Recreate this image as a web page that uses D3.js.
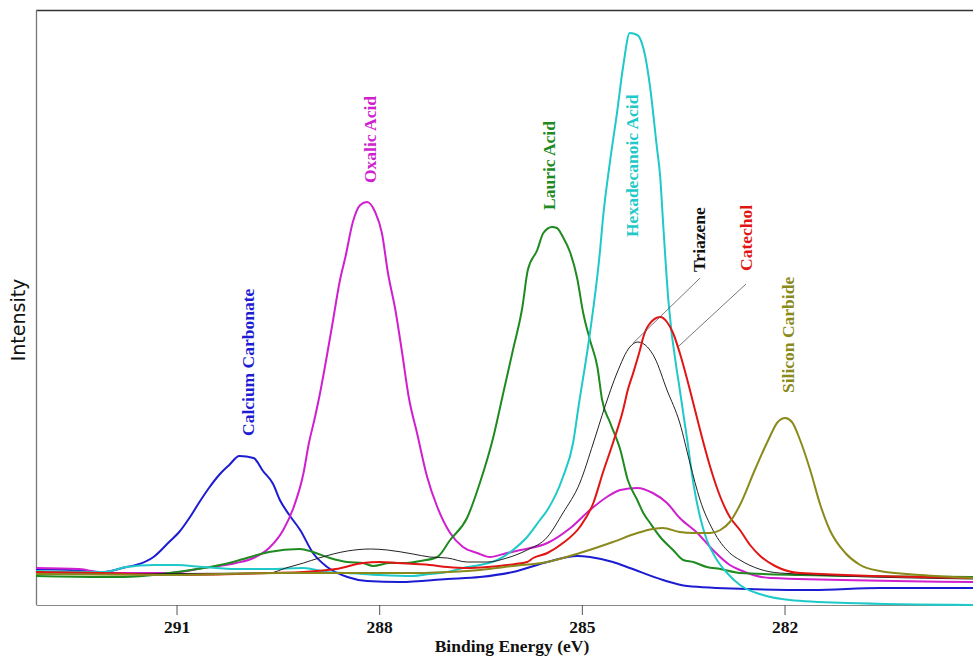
<!DOCTYPE html>
<html>
<head>
<meta charset="utf-8">
<script src="https://cdn.jsdelivr.net/npm/d3@7"></script>
<style>
  body { margin: 0; background: #fff; }
  svg { display: block; }
</style>
</head>
<body>
<svg id="chart"></svg>
<script>
// binding energy (eV) / intensity (a.u.) pairs
const calciumCarbonate = [
  [293.08,36],[292.57,35],[292.08,33],[291.74,38],[291.60,40],[291.34,48],[291.11,63],[290.96,73],
  [290.81,87],[290.66,103],[290.52,117],[290.37,130],[290.22,140],[290.07,149],[289.86,147],[289.72,134],
  [289.57,121],[289.47,105],[289.33,90],[289.17,75],[288.98,52],[288.77,38],[288.47,28],[288.18,24],
  [287.69,23],[286.99,26],[286.51,28],[286.02,33],[285.51,43],[285.07,49],[284.88,48],[284.54,43],
  [284.29,37],[283.80,25],[283.44,19],[282.55,16],[281.58,15],[280.59,17],[279.21,17]
];
const oxalicAcid = [
  [293.08,37],[292.44,36],[292.08,32],[291.11,32],[290.60,37],[290.12,42],[289.86,47],[289.63,57],
  [289.42,75],[289.27,97],[289.12,132],[289.04,162],[288.96,185],[288.89,207],[288.70,278],[288.58,325],
  [288.50,348],[288.39,383],[288.28,400],[288.18,403],[288.06,393],[287.96,372],[287.87,332],[287.76,295],
  [287.66,252],[287.56,207],[287.44,172],[287.29,128],[287.14,98],[286.95,72],[286.76,58],[286.55,52],
  [286.36,48],[286.11,52],[285.91,55],[285.51,62],[285.17,77],[284.88,95],[284.63,108],[284.43,115],
  [284.18,117],[283.95,112],[283.74,102],[283.55,87],[283.29,72],[283.06,55],[282.81,40],[282.66,35],
  [282.21,27],[279.21,23]
];
const lauricAcid = [
  [293.08,29],[292.08,28],[291.79,28],[291.11,32],[290.60,37],[290.22,42],[290.01,46],[289.63,53],
  [289.18,56],[288.98,53],[288.73,47],[288.47,43],[288.24,42],[288.09,39],[287.84,42],[287.59,42],
  [287.39,44],[287.14,48],[286.95,65],[286.70,87],[286.51,122],[286.31,168],[286.17,210],[286.02,255],
  [285.88,298],[285.80,335],[285.66,355],[285.57,372],[285.44,378],[285.37,377],[285.28,368],[285.17,352],
  [285.07,327],[284.98,292],[284.88,265],[284.77,238],[284.70,205],[284.58,182],[284.43,155],[284.32,125],
  [284.18,105],[284.09,92],[283.99,82],[283.84,68],[283.65,55],[283.50,45],[283.35,43],[283.15,38],
  [282.95,36],[282.66,32],[281.77,30],[279.21,28]
];
const hexadecanoicAcid = [
  [293.08,34],[292.08,33],[291.74,38],[291.34,40],[291.00,40],[290.60,38],[290.12,36],[289.63,36],
  [289.12,37],[288.78,33],[288.47,32],[287.99,30],[287.50,29],[287.25,31],[286.99,33],[286.76,37],
  [286.51,40],[286.25,45],[286.02,55],[285.81,68],[285.62,85],[285.51,95],[285.28,128],[285.13,162],
  [285.05,198],[284.88,272],[284.73,355],[284.69,385],[284.58,445],[284.48,492],[284.39,538],[284.29,572],
  [284.18,570],[284.06,548],[283.99,518],[283.89,458],[283.84,428],[283.80,385],[283.72,305],[283.55,215],
  [283.44,165],[283.35,122],[283.25,88],[283.15,65],[283.00,45],[282.85,32],[282.66,20],[282.32,10],
  [281.92,5],[281.07,2],[279.21,0]
];
const triazene = [
  [293.08,31],[289.63,32],[289.38,37],[289.12,42],[288.89,47],[288.47,54],[288.13,56],[287.88,55],
  [287.50,51],[287.25,48],[286.99,47],[286.70,43],[286.40,43],[286.11,47],[285.81,55],[285.51,68],
  [285.28,92],[285.03,122],[284.83,162],[284.66,198],[284.48,232],[284.29,258],[284.17,263],[284.03,258],
  [283.92,247],[283.74,215],[283.55,182],[283.40,142],[283.25,105],[283.06,75],[282.81,52],[282.66,45],
  [282.07,32],[279.21,26]
];
const catechol = [
  [293.08,33],[292.08,32],[291.11,30],[290.12,31],[289.63,32],[289.12,33],[288.64,36],[288.24,42],
  [287.99,43],[287.73,42],[287.25,40],[286.99,38],[286.70,37],[286.40,38],[286.11,40],[285.81,43],
  [285.72,47],[285.51,52],[285.28,62],[285.03,78],[284.83,102],[284.69,132],[284.54,162],[284.39,195],
  [284.32,215],[284.24,232],[284.14,255],[284.09,268],[284.01,280],[283.84,288],[283.74,283],[283.65,272],
  [283.55,252],[283.40,215],[283.25,175],[283.10,138],[282.95,108],[282.81,88],[282.66,75],[282.51,60],
  [282.36,49],[282.14,39],[281.77,32],[279.21,27]
];
const siliconCarbide = [
  [293.08,31],[291.11,30],[289.47,32],[288.47,32],[287.39,32],[286.99,33],[286.51,35],[286.02,39],
  [285.51,43],[285.03,52],[284.54,63],[284.18,72],[283.95,76],[283.80,77],[283.55,73],[283.35,72],
  [283.10,72],[282.95,75],[282.81,83],[282.66,100],[282.44,135],[282.24,165],[282.10,183],[281.99,187],
  [281.89,183],[281.77,165],[281.62,135],[281.47,100],[281.33,75],[281.10,52],[280.88,40],[280.59,34],
  [279.99,30],[279.21,27]
];
const xTicks = [291, 288, 285, 282];

const series = [
  { name: 'Calcium Carbonate', values: calciumCarbonate, color: '#1c1cd2', width: 2 },
  { name: 'Oxalic Acid', values: oxalicAcid, color: '#cf1fcf', width: 2 },
  { name: 'Lauric Acid', values: lauricAcid, color: '#1f8a1f', width: 2 },
  { name: 'Hexadecanoic Acid', values: hexadecanoicAcid, color: '#1fc9c9', width: 2 },
  { name: 'Triazene', values: triazene, color: '#222222', width: 1 },
  { name: 'Catechol', values: catechol, color: '#e21515', width: 2 },
  { name: 'Silicon Carbide', values: siliconCarbide, color: '#8a8a1c', width: 2 }
];

// label anchors (bottom end of the rotated text) in data coordinates
const labels = {
  'Calcium Carbonate': [289.86, 169],
  'Oxalic Acid': [288.04, 422],
  'Lauric Acid': [285.40, 395],
  'Hexadecanoic Acid': [284.17, 368],
  'Triazene': [283.18, 333],
  'Catechol': [282.48, 334],
  'Silicon Carbide': [281.86, 212]
};
const leaders = [
  [[283.25, 327], [284.24, 262]],
  [[282.57, 321], [283.58, 258]]
];

const W = 973, H = 657;
const margin = { top: 10, right: 0, bottom: 52, left: 36 };

const svg = d3.select('#chart').attr('width', W).attr('height', H);

const x = d3.scaleLinear().domain([293.08, 279.21]).range([margin.left, W - margin.right]);
const y = d3.scaleLinear().domain([0, 595]).range([H - margin.bottom, margin.top]);

const serif = "'Liberation Serif', 'Times New Roman', serif";

// frame
svg.append('line')
  .attr('x1', margin.left).attr('x2', W)
  .attr('y1', margin.top + 0.5).attr('y2', margin.top + 0.5)
  .attr('stroke', '#333').attr('stroke-width', 1.3);
svg.append('line')
  .attr('x1', margin.left + 0.5).attr('x2', margin.left + 0.5)
  .attr('y1', margin.top).attr('y2', H - margin.bottom)
  .attr('stroke', '#777').attr('stroke-width', 1.3);

const xAxis = svg.append('g')
  .attr('transform', `translate(0,${H - margin.bottom})`)
  .call(d3.axisBottom(x).tickValues(xTicks).tickSize(10).tickSizeOuter(0).tickPadding(6));
xAxis.select('.domain').attr('stroke', '#888').attr('stroke-width', 1.2);
xAxis.selectAll('.tick line').attr('stroke', '#555');
xAxis.selectAll('.tick text')
  .attr('fill', '#111')
  .style('font-family', serif)
  .style('font-weight', 'bold')
  .style('font-size', '17.5px');

svg.append('text')
  .attr('x', 512).attr('y', 652)
  .attr('text-anchor', 'middle')
  .style('font-family', serif)
  .style('font-weight', 'bold')
  .style('font-size', '17.5px')
  .attr('fill', '#111')
  .text('Binding Energy (eV)');

svg.append('text')
  .attr('transform', 'translate(25,320) rotate(-90)')
  .attr('text-anchor', 'middle')
  .style('font-family', "'DejaVu Sans', sans-serif")
  .style('font-size', '19px')
  .attr('fill', '#111')
  .text('Intensity');

const line = d3.line()
  .x(d => x(d[0]))
  .y(d => y(d[1]))
  .curve(d3.curveMonotoneX);

svg.append('g').selectAll('path')
  .data(series)
  .join('path')
  .attr('d', d => line(d.values))
  .attr('fill', 'none')
  .attr('stroke', d => d.color)
  .attr('stroke-width', d => d.width)
  .attr('stroke-linejoin', 'round');

svg.append('g').selectAll('line')
  .data(leaders)
  .join('line')
  .attr('x1', d => x(d[0][0])).attr('y1', d => y(d[0][1]))
  .attr('x2', d => x(d[1][0])).attr('y2', d => y(d[1][1]))
  .attr('stroke', '#555').attr('stroke-width', 0.8);

svg.append('g').selectAll('text')
  .data(series)
  .join('text')
  .attr('transform', d => `translate(${x(labels[d.name][0])},${y(labels[d.name][1])}) rotate(-90)`)
  .attr('text-anchor', 'start')
  .style('font-family', serif)
  .style('font-weight', 'bold')
  .style('font-size', '17.5px')
  .attr('fill', d => d.name === 'Triazene' ? '#111' : d.color)
  .text(d => d.name);
</script>
</body>
</html>
